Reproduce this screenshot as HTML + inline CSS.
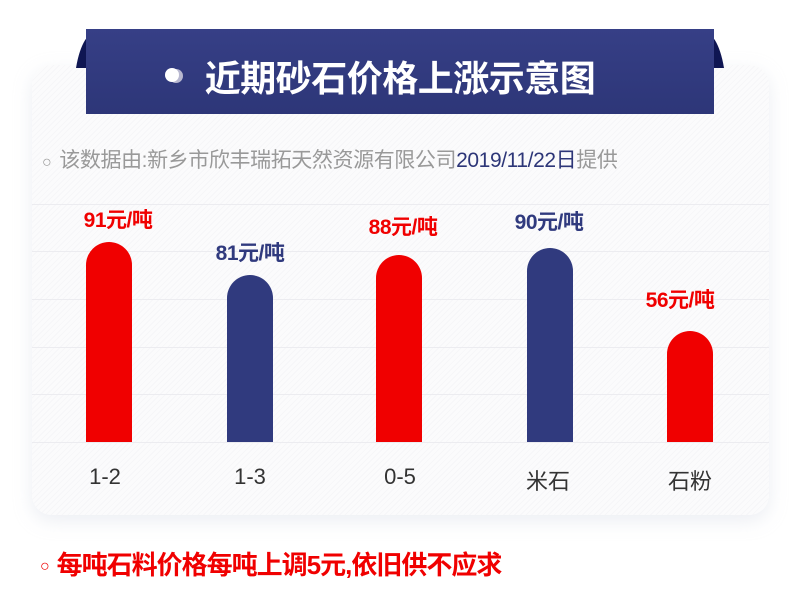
<!DOCTYPE html>
<html><head><meta charset="utf-8"><style>
body{margin:0;width:800px;height:601px;background:#fff;position:relative;overflow:hidden;font-family:"Liberation Sans","Noto Sans CJK SC",sans-serif}
.abs{position:absolute}
.card{left:32px;top:65px;width:737px;height:450px;border-radius:20px;background:repeating-linear-gradient(135deg,#fbfbfc 0 3px,#f6f6f8 3px 4px);box-shadow:0 6px 18px rgba(200,205,220,0.35)}
.grid{left:32px;width:737px;height:1px;background:#ececf0}
.bar{width:46px;border-radius:23px 23px 0 0;bottom:159px}
.r{background:#f00000}.b{background:#303a7e}
.lbl{font-weight:bold;font-size:21px;width:140px;text-align:center;letter-spacing:-0.5px}
.x{font-size:22px;color:#333;width:120px;text-align:center;top:464px}
</style></head><body>
<div class="abs card"></div>
<svg class="abs" style="left:0;top:0" width="800" height="120">
<path d="M76 68 Q82 32 100 29 L700 29 Q718 32 724 68 Z" fill="#0f1652"/>
<defs><linearGradient id="g" x1="0" y1="0" x2="0" y2="1"><stop offset="0" stop-color="#363f86"/><stop offset="1" stop-color="#2d3678"/></linearGradient></defs>
<rect x="86" y="29" width="628" height="85" fill="url(#g)"/>
<circle cx="176" cy="76" r="7" fill="#b8b8d0"/>
<circle cx="172" cy="75" r="7" fill="#fff"/>
</svg>
<div class="abs" style="left:180px;top:50px;width:440px;text-align:center;color:#fff;font-weight:bold;font-size:36px;letter-spacing:-0.5px">近期砂石价格上涨示意图</div>
<div class="abs" style="left:42px;top:144px;font-size:21px;color:#999;letter-spacing:-0.4px"><span style="font-size:16px;margin-right:8px">○</span>该数据由:新乡市欣丰瑞拓天然资源有限公司<span style="color:#2d3678">2019/11/22日</span>提供</div>
<div class="abs grid" style="top:204px"></div>
<div class="abs grid" style="top:251px"></div>
<div class="abs grid" style="top:299px"></div>
<div class="abs grid" style="top:347px"></div>
<div class="abs grid" style="top:394px"></div>
<div class="abs grid" style="top:442px"></div>
<div class="abs bar r" style="left:86px;height:200px"></div>
<div class="abs bar b" style="left:227px;height:167px"></div>
<div class="abs bar r" style="left:376px;height:187px"></div>
<div class="abs bar b" style="left:527px;height:194px"></div>
<div class="abs bar r" style="left:667px;height:111px"></div>
<div class="abs lbl" style="left:48px;top:204px;color:#f00000">91元/吨</div>
<div class="abs lbl" style="left:180px;top:237px;color:#303a7e">81元/吨</div>
<div class="abs lbl" style="left:333px;top:211px;color:#f00000">88元/吨</div>
<div class="abs lbl" style="left:479px;top:206px;color:#303a7e">90元/吨</div>
<div class="abs lbl" style="left:610px;top:284px;color:#f00000">56元/吨</div>
<div class="abs x" style="left:45px">1-2</div>
<div class="abs x" style="left:190px">1-3</div>
<div class="abs x" style="left:340px">0-5</div>
<div class="abs x" style="left:488px">米石</div>
<div class="abs x" style="left:630px">石粉</div>
<div class="abs" style="left:40px;top:545px;font-size:26px;font-weight:bold;color:#f00000;letter-spacing:-1px"><span style="font-size:16px;margin-right:8px;vertical-align:3px">○</span>每吨石料价格每吨上调5元,依旧供不应求</div>
</body></html>
